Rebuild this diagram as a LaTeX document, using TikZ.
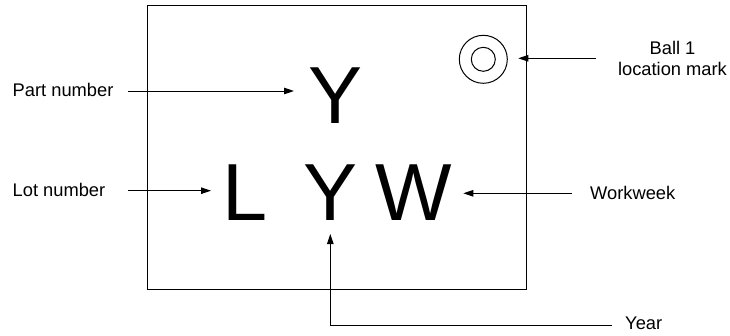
\documentclass[tikz,border=0pt]{standalone}
\usepackage{fontspec}
\setmainfont{Liberation Sans}
\usetikzlibrary{arrows.meta}
\begin{document}
\begin{tikzpicture}[x=1pt,y=-1pt,
  lbl/.style={font=\fontsize{18.3}{21}\selectfont, inner sep=0pt},
  big/.style={font=\fontsize{81}{81}\selectfont, inner sep=0pt, anchor=base},
  arr/.style={line width=1pt, -{Triangle[length=10pt,width=6.5pt]}},
  ln/.style={line width=1pt}]
\useasboundingbox (0,0) rectangle (730,335);
% package outline
\node[draw, line width=1pt, minimum width=378.5pt, minimum height=284pt, inner sep=0pt, anchor=north west] (chip) at (147.3,5) {};
% ball 1 mark
\node[circle, draw, line width=1pt, minimum size=48pt, inner sep=0pt] (ballo) at (483.3,59.3) {};
\node[circle, draw, line width=1pt, minimum size=24pt, inner sep=0pt] (balli) at (ballo.center) {};
% big letters
\node[big] (ytop) at (336,123.3) {Y};
\node[big] (L) at (245.5,220) {L};
\node[big] (Y) at (330.5,220) {Y};
\node[big] (W) at (413.5,220) {W};
% labels
\node[lbl, anchor=base west] (pn) at (12.5,96) {Part number};
\node[lbl, anchor=base west] (lnum) at (12.5,196.7) {Lot number};
\node[lbl, anchor=base west] (ww) at (590,199.3) {Workweek};
\node[lbl, anchor=base west] (yr) at (625,329) {Year};
\node[lbl, align=center] (ball) at (672.5,58.3) {Ball 1\\location mark};
% arrow tails and tips
\coordinate (pnTail) at (128,91);
\coordinate (pnTip) at (294,91);
\coordinate (lnTail) at (128,190.7);
\coordinate (lnTip) at (211,190.7);
\coordinate (wwTail) at (571.7,193.3);
\coordinate (wwTip) at (463.3,193.3);
\coordinate (ballTail) at (595.7,58.3);
\coordinate (ballTip) at (518.3,58.3);
\coordinate (yrTail) at (611.7,325);
\coordinate (yrBend) at (330.3,325);
\coordinate (yrTip) at (330.3,234);
% connectors
\draw[arr] (pnTail) -- (pnTip);
\draw[arr] (lnTail) -- (lnTip);
\draw[arr] (wwTail) -- (wwTip);
\draw[arr] (ballTail) -- (ballTip);
\draw[arr] (yrTail) -- (yrBend) -- (yrTip);
\end{tikzpicture}
\end{document}
